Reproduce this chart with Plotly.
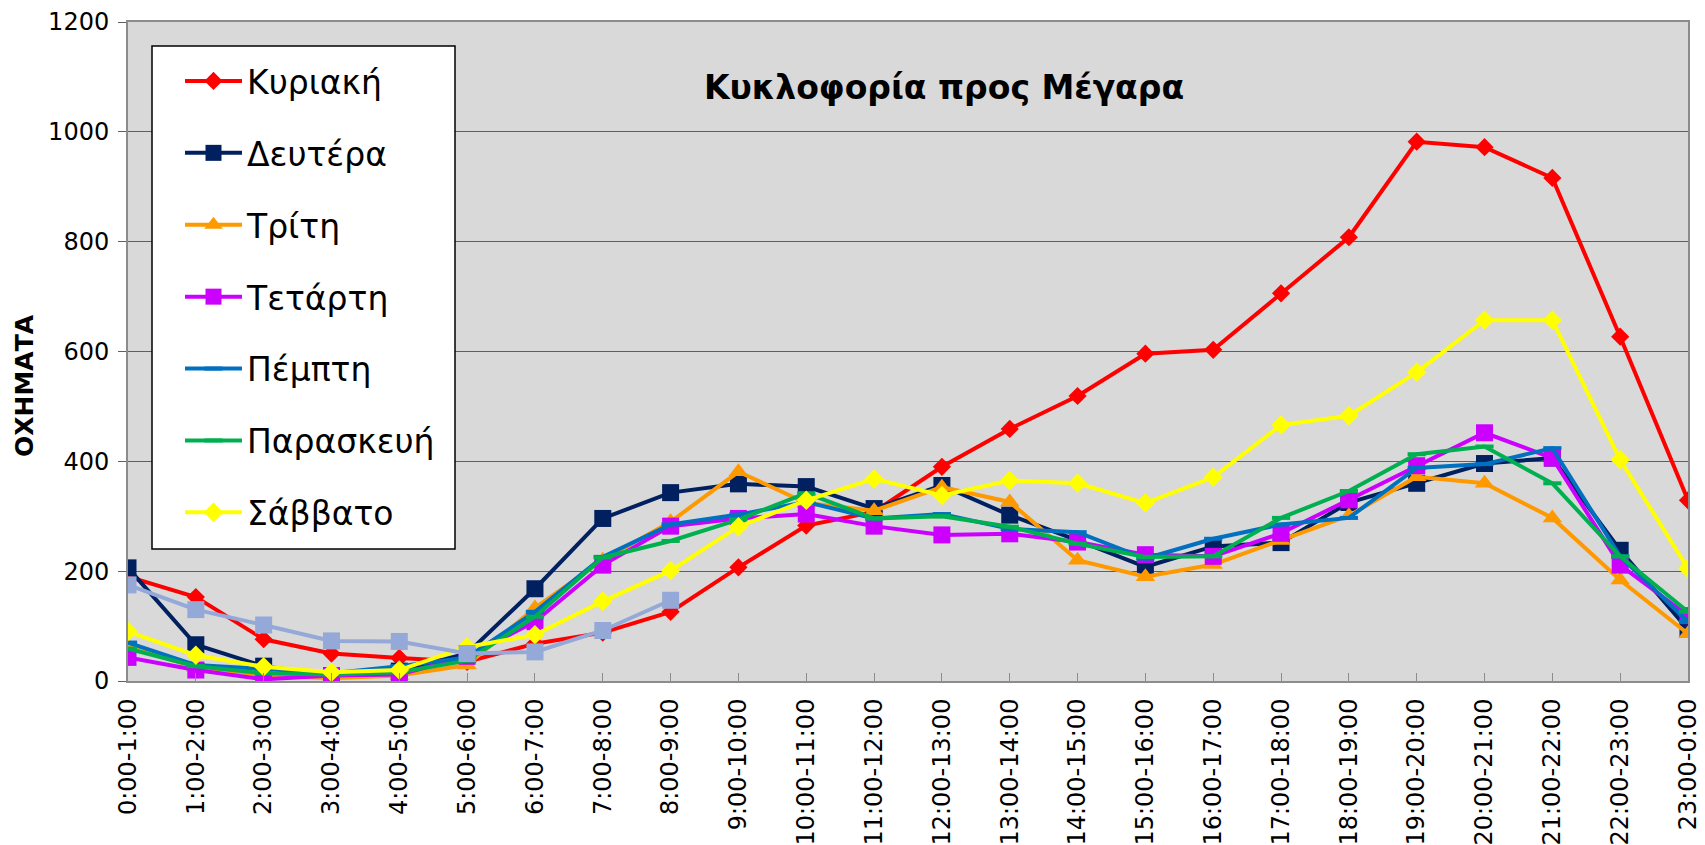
import plotly.graph_objects as go

hours = ["0:00-1:00", "1:00-2:00", "2:00-3:00", "3:00-4:00", "4:00-5:00", "5:00-6:00",
         "6:00-7:00", "7:00-8:00", "8:00-9:00", "9:00-10:00", "10:00-11:00", "11:00-12:00",
         "12:00-13:00", "13:00-14:00", "14:00-15:00", "15:00-16:00", "16:00-17:00",
         "17:00-18:00", "18:00-19:00", "19:00-20:00", "20:00-21:00", "21:00-22:00",
         "22:00-23:00", "23:00-0:00"]

kyriaki = [190, 153, 76, 50, 42, 35, 68, 88, 126, 207, 283, 308, 390, 459, 519, 596, 603, 706, 808, 982, 972, 916, 627, 329]
deftera = [206, 66, 27, 10, 18, 50, 168, 296, 343, 359, 354, 314, 356, 302, 256, 208, 245, 252, 325, 360, 396, 406, 238, 94]
triti = [62, 25, 10, 5, 10, 29, 133, 220, 290, 381, 324, 310, 353, 326, 220, 190, 212, 256, 301, 372, 360, 297, 184, 86]
tetarti = [43, 20, 3, 10, 12, 45, 108, 211, 282, 296, 304, 282, 266, 268, 253, 230, 227, 269, 330, 392, 452, 406, 211, 119]
pempti = [70, 29, 22, 14, 27, 43, 126, 226, 285, 303, 326, 296, 304, 277, 271, 223, 259, 285, 297, 388, 395, 424, 227, 108]
paraskevi = [59, 27, 14, 12, 16, 37, 117, 225, 255, 294, 342, 296, 300, 281, 250, 226, 227, 297, 346, 413, 427, 360, 227, 126]
savvato = [90, 47, 26, 16, 20, 62, 84, 145, 201, 281, 329, 368, 338, 365, 360, 324, 371, 466, 483, 562, 657, 657, 403, 205]
extra = [175, 130, 102, 73, 72, 50, 53, 92, 147] + [None] * 15

series = [
    ("Κυριακή", kyriaki, "#FF0000", "diamond", 14, True),
    ("Δευτέρα", deftera, "#002060", "square", 17, True),
    ("Τρίτη", triti, "#FF9900", "triangle-up", 17, True),
    ("Τετάρτη", tetarti, "#CC00FF", "square", 17, True),
    ("Πέμπτη", pempti, "#0070C0", "line-ew", 13, True),
    ("Παρασκευή", paraskevi, "#00B050", "line-ew", 13, True),
    ("Σάββατο", savvato, "#FFFF00", "diamond", 15, True),
    ("Σειρά 8", extra, "#95A9D8", "square", 17, False),
]

FONT = "DejaVu Sans"
fig = go.Figure()
for name, vals, color, sym, size, show in series:
    fig.add_trace(go.Scatter(
        x=list(range(len(hours))), y=vals, name=name, mode="lines+markers",
        legendgroup=name, showlegend=show,
        line=dict(color=color, width=4),
        marker=dict(symbol=sym, size=size, color=color,
                    line=dict(color=color, width=4 if sym == "line-ew" else 0)),
        connectgaps=False,
    ))

# page body has an 8px margin; targets below are window pixel coordinates
OFF = 8
W, H = 1697, 837
L, R, T, B = 120, 17, 14, 164
pw, ph = W - L - R, H - T - B

def px(x):
    return (x - OFF - L) / pw

def py(y):
    return (H - B - (y - OFF)) / ph

fig.update_layout(
    width=W, height=H,
    margin=dict(l=L, r=R, t=T, b=B, autoexpand=False),
    paper_bgcolor="white", plot_bgcolor="#D9D9D9",
    font=dict(family=FONT, color="black"),
    showlegend=True,
    legend=dict(
        x=px(180), y=py(53), xanchor="left", yanchor="top",
        bgcolor="rgba(0,0,0,0)", borderwidth=0,
        font=dict(family=FONT, size=33, color="black"),
        traceorder="grouped", tracegroupgap=26,
        itemsizing="trace", itemwidth=57,
    ),
    shapes=[dict(type="rect", xref="paper", yref="paper",
                 x0=px(152), x1=px(455), y0=py(549), y1=py(46),
                 fillcolor="white", line=dict(color="black", width=1.5), layer="above")],
    annotations=[
        dict(text="<b>Κυκλοφορία προς Μέγαρα</b>", xref="paper", yref="paper",
             x=px(944), y=py(87), xanchor="center", yanchor="middle", showarrow=False,
             font=dict(family=FONT, size=33, color="black")),
        dict(text="<b>ΟΧΗΜΑΤΑ</b>", xref="paper", yref="paper",
             x=px(24), y=py(386), xanchor="center", yanchor="middle", showarrow=False,
             textangle=-90, font=dict(family=FONT, size=25, color="black")),
    ],
)

fig.update_xaxes(
    range=[0, len(hours) - 1], tickmode="array",
    tickvals=list(range(len(hours))), ticktext=hours, tickangle=-90,
    tickfont=dict(family=FONT, size=24, color="black"),
    showgrid=False, zeroline=False,
    showline=True, linecolor="#8C8C8C", linewidth=2, mirror=True,
    ticks="inside", ticklen=8, tickcolor="#8C8C8C", tickwidth=1,
    ticklabelstandoff=6,
    automargin=False,
)
fig.update_yaxes(
    range=[0, 1200], dtick=200, tick0=0,
    tickfont=dict(family=FONT, size=24, color="black"),
    showgrid=True, gridcolor="#5F5F5F", gridwidth=1.2, zeroline=False,
    showline=True, linecolor="#8C8C8C", linewidth=2, mirror=True,
    ticks="outside", ticklen=8, tickcolor="#5F5F5F", tickwidth=1,
    ticklabelstandoff=4,
    automargin=False,
)

fig.write_html("out.html")
